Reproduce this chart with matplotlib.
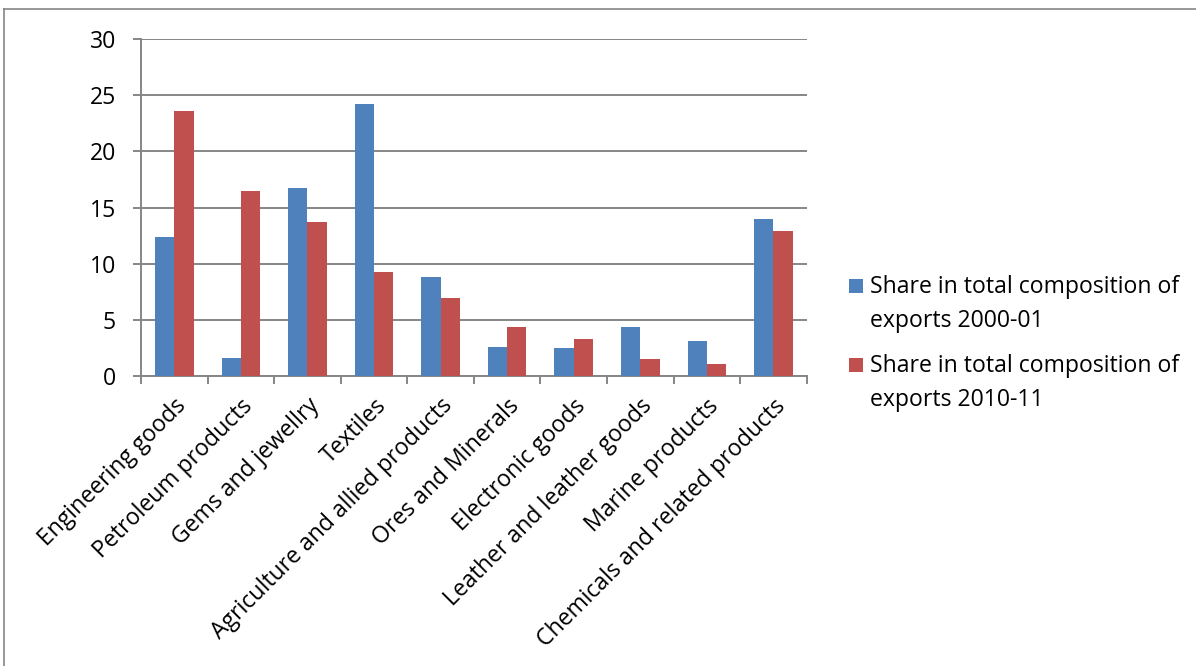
import matplotlib
matplotlib.use("Agg")
import matplotlib.pyplot as plt
import numpy as np
from matplotlib.lines import Line2D
from matplotlib.patches import Rectangle
from matplotlib.container import BarContainer
from matplotlib.legend_handler import HandlerPatch, update_from_first_child

categories = ["Engineering goods", "Petroleum products", "Gems and jewellry", "Textiles",
              "Agriculture and allied products", "Ores and Minerals", "Electronic goods",
              "Leather and leather goods", "Marine products", "Chemicals and related products"]
share_2000 = [12.4, 1.6, 16.7, 24.2, 8.8, 2.6, 2.5, 4.4, 3.1, 14.0]
share_2010 = [23.6, 16.5, 13.7, 9.3, 6.9, 4.4, 3.3, 1.5, 1.1, 12.9]
series_labels = ["Share in total composition of\nexports 2000-01",
                 "Share in total composition of\nexports 2010-11"]
yticks = [0, 5, 10, 15, 20, 25, 30]

plt.rcParams['font.family'] = ['Open Sans', 'DejaVu Sans']
FS = 16.6
GRAY = '#868686'

W, H = 1196, 666
fig = plt.figure(figsize=(W / 100, H / 100), dpi=100)
ax = fig.add_axes([141 / W, 1 - 376 / H, (806.7 - 141) / W, (376 - 39) / H])

x = np.arange(len(categories))
bw = 0.29
ax.bar(x - bw / 2, share_2000, bw, color='#4F81BD', label=series_labels[0], zorder=3)
ax.bar(x + bw / 2, share_2010, bw, color='#C0504D', label=series_labels[1], zorder=3)

ax.set_xlim(-0.5, len(categories) - 0.5)
ax.set_ylim(0, 30)
ax.set_yticks(yticks)
ax.set_yticklabels([str(v) for v in yticks], fontsize=FS)
ax.yaxis.grid(True, color=GRAY, linewidth=1.4, zorder=0)
ax.set_axisbelow(True)

ax.set_xticks(np.arange(-0.5, len(categories) + 0.5, 1.0))
ax.set_xticklabels([])
ax.set_xticks(x, minor=True)
ax.set_xticklabels(categories, minor=True, rotation=45, ha='right',
                   rotation_mode='anchor', fontsize=FS)
ax.tick_params(axis='x', which='minor', length=0, pad=13)
ax.tick_params(axis='x', which='major', length=6, width=1.4, color=GRAY, direction='out')
ax.tick_params(axis='y', length=6, width=1.4, color=GRAY, pad=12)

for s in ['top', 'right']:
    ax.spines[s].set_visible(False)
for s in ['left', 'bottom']:
    ax.spines[s].set_color(GRAY)
    ax.spines[s].set_linewidth(1.4)

SQ = 14 * 72 / 100  # legend square size in points
TOPOFF = -6 * 72 / 100


def top_square(legend, orig_handle, xdescent, ydescent, width, height, fontsize):
    return Rectangle((-xdescent, -ydescent + height - SQ - TOPOFF), SQ, SQ)


leg = ax.legend(loc='upper left', bbox_to_anchor=(849 / W, 1 - 275 / H),
                bbox_transform=fig.transFigure, frameon=False, fontsize=FS,
                handlelength=SQ / FS, handleheight=2.4, handletextpad=0.3,
                labelspacing=0.9, borderpad=0, borderaxespad=0,
                handler_map={BarContainer: HandlerPatch(patch_func=top_square,
                                                        update_func=update_from_first_child)})
for t in leg.get_texts():
    t.set_linespacing(1.55)

# outer chart frame (top and left edges visible)
fig.add_artist(Line2D([4 / W, 1.0], [1 - 9 / H, 1 - 9 / H], transform=fig.transFigure,
                      color=GRAY, linewidth=1.2))
fig.add_artist(Line2D([4 / W, 4 / W], [0, 1 - 9 / H], transform=fig.transFigure,
                      color=GRAY, linewidth=1.2))

fig.savefig('out.png', dpi=100)
